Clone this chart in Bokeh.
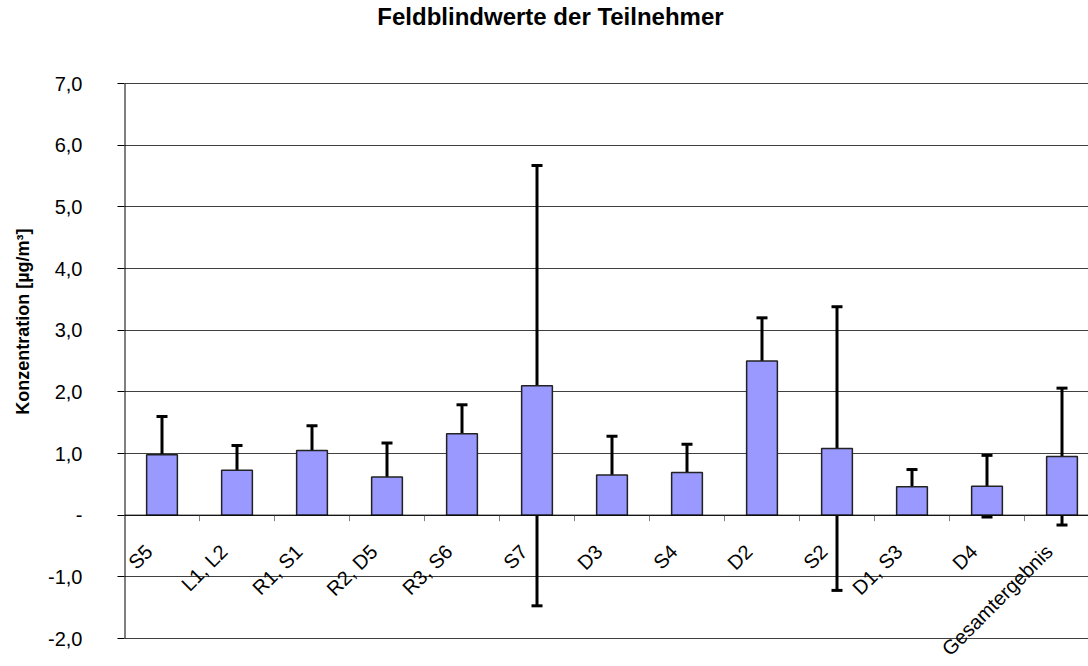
import math
from bokeh.plotting import figure
from bokeh.models import (ColumnDataSource, Range1d, FixedTicker, Whisker, TeeHead,
                          Label, Span, Title)
from bokeh.embed import file_html
from bokeh.resources import INLINE

# ---- data ----
categories = ["S5", "L1, L2", "R1, S1", "R2, D5", "R3, S6", "S7", "D3",
              "S4", "D2", "S2", "D1, S3", "D4", "Gesamtergebnis"]
means = [0.98, 0.73, 1.05, 0.62, 1.32, 2.10, 0.65, 0.69, 2.50, 1.08, 0.46, 0.47, 0.95]
sdev = [0.62, 0.40, 0.40, 0.55, 0.47, 3.57, 0.63, 0.46, 0.70, 2.30, 0.28, 0.50, 1.11]
y_ticks = [-2, -1, 0, 1, 2, 3, 4, 5, 6, 7]
title_text = "Feldblindwerte der Teilnehmer"
y_title_text = "Konzentration [µg/m³]"

# ---- layout constants ----
W, H = 1088, 666
LEFT = 124
PLOT_TOP_PX, PLOT_BOTTOM_PX = 83, 638   # pixel rows of highest / lowest gridline
CAT_PX = 75.0
frame_w = W - LEFT
x_end = frame_w / CAT_PX
px_per_unit = (PLOT_BOTTOM_PX - PLOT_TOP_PX) / (y_ticks[-1] - y_ticks[0])
y_start = y_ticks[0] - (H - PLOT_BOTTOM_PX) / px_per_unit
y_end = y_ticks[-1] + PLOT_TOP_PX / px_per_unit
TICK_PX = 6

FONT = "Liberation Sans"

xc = [i + 0.5 for i in range(len(categories))]
bounds = list(range(1, len(categories)))
src = ColumnDataSource(dict(
    x=xc, top=means,
    upper=[m + s for m, s in zip(means, sdev)],
    lower=[m - s for m, s in zip(means, sdev)],
))

p = figure(width=W, height=H, output_backend="svg", toolbar_location=None,
           x_range=Range1d(0, x_end), y_range=Range1d(y_start, y_end),
           min_border_left=LEFT, min_border_top=0, min_border_bottom=0,
           min_border_right=0)
p.title = None
p.outline_line_color = None
p.background_fill_color = "white"

# chart title (drawn inside the full-height frame)
p.add_layout(Label(x=0, y=y_ticks[-1], x_offset=426, y_offset=67, text=title_text,
                   text_align="center", text_baseline="alphabetic",
                   text_font=FONT, text_font_size="24px", text_font_style="bold",
                   text_color="black"))

# y-axis title (left panel, shifted upward like the original)
ytitle = Title(text=y_title_text, align="right", offset=228, vertical_align="top",
               text_font=FONT, text_font_size="18px", text_font_style="bold",
               text_color="black", standoff=22)
p.add_layout(ytitle, "left")

# grid
p.xgrid.grid_line_color = None
p.ygrid.ticker = FixedTicker(ticks=y_ticks)
p.ygrid.grid_line_color = "#404040"
p.ygrid.grid_line_width = 1

# x axis line at zero and ticks between categories
p.add_layout(Span(location=0, dimension="width", line_color="black", line_width=1))
p.segment(x0=bounds, y0=[0] * len(bounds), x1=bounds,
          y1=[-TICK_PX / px_per_unit] * len(bounds),
          line_color="#808080", line_width=1)

# left axis line from lowest to highest tick
p.segment(x0=[0], y0=[y_ticks[0]], x1=[0], y1=[y_ticks[-1]],
          line_color="black", line_width=2)

# bars
p.vbar(x="x", top="top", width=0.41, bottom=0, source=src,
       fill_color="#9999FF", line_color="#222222", line_width=1.5)

# error bars
wh = Whisker(source=src, base="x", upper="upper", lower="lower",
             line_color="black", line_width=3,
             upper_head=TeeHead(size=11, line_width=3, line_color="black"),
             lower_head=TeeHead(size=11, line_width=3, line_color="black"))
p.add_layout(wh)

# y axis
yax = p.yaxis[0]
yax.ticker = FixedTicker(ticks=y_ticks)
yax.major_label_overrides = {v: ("-" if v == 0 else f"{v:.1f}".replace(".", ",")) for v in y_ticks}
yax.major_label_text_font = FONT
yax.major_label_text_font_size = "20px"
yax.major_label_text_color = "black"
yax.major_label_standoff = 35
yax.major_tick_in = 0
yax.major_tick_out = 7
yax.major_tick_line_color = "black"
yax.minor_tick_line_color = None
yax.axis_line_color = None

p.xaxis.visible = False

# category labels, rotated
for x, c in zip(xc, categories):
    p.add_layout(Label(x=x, y=0, text=c, angle=math.radians(45),
                       text_align="right", text_baseline="middle",
                       x_offset=-13, y_offset=-33,
                       text_font=FONT, text_font_size="20px", text_color="black"))

open("out.html", "w").write(file_html(p, INLINE))
